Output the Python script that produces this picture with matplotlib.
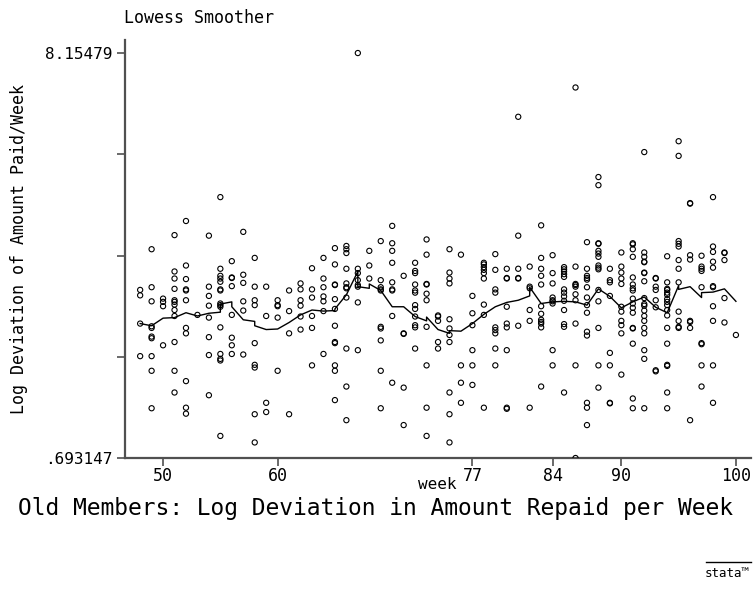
import matplotlib
matplotlib.use("Agg")
import matplotlib.pyplot as plt
from matplotlib.lines import Line2D

FONT = "DejaVu Sans Mono"

weeks = list(range(48, 101))

# log deviation of amount repaid, one list per week (48..100)
log_dev = [
    [3.79, 3.69, 3.17, 2.57],
    [4.54, 3.84, 3.58, 3.12, 3.09, 2.93, 2.90, 2.57, 2.30, 1.61],
    [3.63, 3.57, 3.49, 2.77],
    [4.80, 4.13, 4.00, 3.81, 3.60, 3.57, 3.52, 3.42, 3.31, 2.83, 2.30, 1.90],
    [5.06, 4.24, 3.99, 3.80, 3.78, 3.60, 3.09, 2.99, 2.11, 1.62, 1.51],
    [3.33],
    [4.79, 3.85, 3.68, 3.50, 3.28, 2.92, 2.59, 1.85],
    [5.50, 4.18, 4.05, 4.00, 3.94, 3.80, 3.78, 3.54, 3.51, 3.48, 3.10, 2.61, 2.52, 2.49, 1.10],
    [4.32, 4.02, 4.01, 3.86, 3.33, 2.91, 2.77, 2.61],
    [4.86, 4.07, 3.92, 3.58, 3.41, 2.60],
    [4.38, 3.85, 3.60, 3.51, 2.81, 2.41, 2.36, 1.50, 0.98],
    [3.85, 3.31, 1.71, 1.54],
    [3.60, 3.51, 3.49, 3.28, 2.30],
    [3.78, 3.40, 2.99, 1.50],
    [3.91, 3.80, 3.60, 3.50, 3.30, 3.06],
    [4.19, 3.80, 3.65, 3.31, 3.09, 2.40],
    [4.38, 4.00, 3.84, 3.67, 3.58, 3.40, 2.61],
    [4.56, 4.26, 3.89, 3.88, 3.62, 3.44, 3.13, 2.83, 2.81, 2.40, 2.30, 1.76],
    [4.60, 4.54, 4.47, 4.18, 3.91, 3.84, 3.82, 3.65, 2.71, 2.01, 1.39],
    [8.15479, 4.18, 4.10, 3.97, 3.88, 3.85, 3.56, 2.68],
    [4.51, 4.24, 4.00],
    [4.69, 3.97, 3.84, 3.80, 3.78, 3.11, 3.08, 2.86, 2.30, 1.61],
    [4.97, 4.65, 4.51, 4.29, 3.93, 3.80, 3.78, 3.31, 2.08],
    [4.05, 2.99, 2.98, 1.99, 1.30],
    [4.29, 4.14, 4.10, 3.89, 3.78, 3.74, 3.51, 3.44, 3.30, 3.14, 3.10, 2.71],
    [4.72, 4.44, 3.90, 3.89, 3.72, 3.60, 3.11, 2.40, 1.62, 1.10],
    [3.32, 3.30, 3.22, 2.83, 2.71],
    [4.54, 4.11, 4.00, 3.91, 3.25, 3.08, 2.96, 2.83, 1.90, 1.50, 0.98],
    [4.44, 2.40, 2.08, 1.71],
    [3.68, 3.36, 3.14, 2.68, 2.40, 2.04],
    [4.29, 4.26, 4.21, 4.16, 4.10, 4.00, 3.52, 3.33, 1.62],
    [4.45, 4.16, 3.80, 3.74, 3.10, 3.05, 2.99, 2.71, 2.40],
    [4.18, 4.01, 4.00, 3.48, 3.17, 3.10, 2.68, 1.62, 1.60],
    [6.98, 4.79, 4.18, 4.01, 4.00, 3.13],
    [4.22, 3.85, 3.82, 3.42, 3.22, 1.62],
    [4.98, 4.38, 4.18, 4.05, 3.89, 3.49, 3.35, 3.24, 3.20, 3.17, 3.10, 2.01],
    [4.43, 4.10, 3.91, 3.65, 3.60, 3.58, 3.54, 2.68, 2.40],
    [4.21, 4.17, 4.13, 4.08, 4.03, 3.80, 3.74, 3.67, 3.59, 3.42, 3.16, 3.11, 1.90],
    [7.52, 4.22, 3.90, 3.88, 3.85, 3.71, 3.60, 3.17, 2.40, 0.693147],
    [4.67, 4.18, 4.05, 4.01, 3.98, 3.84, 3.65, 3.51, 3.37, 3.02, 2.95, 1.71, 1.62, 1.30],
    [5.87, 5.72, 4.65, 4.64, 4.51, 4.46, 4.40, 4.24, 4.20, 4.17, 3.79, 3.58, 3.09, 2.40, 1.99],
    [4.18, 3.97, 3.93, 3.68, 2.63, 2.40, 1.71, 1.70],
    [4.48, 4.22, 4.11, 4.00, 3.90, 3.48, 3.39, 3.22, 3.14, 2.99, 2.23],
    [4.65, 4.63, 4.54, 4.40, 4.02, 3.89, 3.82, 3.78, 3.63, 3.54, 3.46, 3.37, 3.09, 3.08, 2.80, 1.79, 1.61],
    [6.33, 4.48, 4.40, 4.31, 4.30, 4.11, 4.10, 3.95, 3.64, 3.53, 3.50, 3.41, 3.31, 3.22, 3.09, 2.99, 2.68, 2.52, 1.61],
    [4.01, 4.00, 3.85, 3.79, 3.60, 3.47, 2.31, 2.29],
    [4.41, 3.93, 3.81, 3.79, 3.74, 3.70, 3.62, 3.57, 3.51, 3.42, 3.32, 3.09, 2.80, 2.41, 2.39, 1.90, 1.61],
    [6.53, 6.26, 4.69, 4.64, 4.59, 4.34, 4.18, 3.93, 3.39, 3.22, 3.11, 3.09],
    [5.39, 5.38, 4.43, 4.35, 3.22, 3.20, 3.09, 1.39],
    [4.42, 4.22, 4.18, 4.14, 3.84, 2.81, 2.79, 2.40, 2.01],
    [5.50, 4.59, 4.49, 4.31, 4.20, 3.86, 3.84, 3.49, 3.22, 2.40, 1.71],
    [4.48, 4.47, 4.34, 3.64, 3.19],
    [2.96],
]

# lowess smooth, evaluated per observation (ties give small jumps)
smooth_week = [48, 49, 50, 51, 52, 53, 54, 55, 55, 56, 56, 57, 58, 58, 59, 60,
               61, 62, 63, 64, 65, 65, 66, 67, 67, 68, 68, 69, 70, 71, 72, 73,
               73, 74, 75, 75, 76, 77, 78, 79, 80, 81, 82, 82, 83, 84, 85, 86,
               87, 88, 89, 90, 91, 92, 93, 94, 95, 95, 96, 97, 97, 98, 99, 100]
smooth_value = [3.17, 3.13, 3.27, 3.28, 3.37, 3.31, 3.36, 3.38, 3.53, 3.57, 3.48,
                3.24, 3.21, 3.13, 3.06, 3.07, 3.19, 3.33, 3.42, 3.40, 3.41, 3.44,
                3.70, 4.13, 3.85, 3.82, 3.90, 3.78, 3.48, 3.48, 3.30, 3.22, 3.29,
                3.06, 2.99, 3.04, 3.03, 3.17, 3.34, 3.48, 3.56, 3.60, 3.68, 3.84,
                3.54, 3.57, 3.58, 3.57, 3.51, 3.81, 3.67, 3.46, 3.57, 3.66, 3.47,
                3.37, 3.87, 3.80, 3.85, 3.65, 3.74, 3.75, 3.81, 3.58]

x_ticks = [50, 60, 77, 84, 90, 100]
y_min, y_max = 0.693147, 8.15479
y_ticks = [y_min + i * (y_max - y_min) / 4 for i in range(5)]
y_tick_labels = [".693147", "", "", "", "8.15479"]


def main():
    fig = plt.figure(figsize=(7.55, 5.89), dpi=100)
    ax = fig.add_axes([0.1656, 0.2224, 0.829, 0.7096])

    xs = [w for w, vals in zip(weeks, log_dev) for _ in vals]
    ys = [v for vals in log_dev for v in vals]
    ax.scatter(xs, ys, s=14, facecolors="none", edgecolors="black",
               linewidths=0.8, zorder=3)
    ax.plot(smooth_week, smooth_value, color="black", lw=1.0, zorder=4)

    ax.set_xlim(46.68, 101.31)
    ax.set_ylim(y_min, 8.394)

    for side in ["top", "right"]:
        ax.spines[side].set_visible(False)
    for side in ["left", "bottom"]:
        ax.spines[side].set_color("#505050")
        ax.spines[side].set_linewidth(1.6)

    ax.set_xticks(x_ticks)
    ax.set_xticklabels([str(t) for t in x_ticks], family=FONT, fontsize=12)
    ax.set_yticks(y_ticks)
    ax.set_yticklabels(y_tick_labels, family=FONT, fontsize=11.5)
    ax.tick_params(direction="out", length=6, width=1.2, color="#505050", pad=3)
    ax.tick_params(axis="x", pad=0.5)

    ax.set_ylabel("Log Deviation of Amount Paid/Week", family=FONT,
                  fontsize=12, labelpad=12)

    fig.text(0.579, 0.178, "week", family=FONT, fontsize=11.5,
             ha="center", va="center")
    fig.text(0.164, 0.97, "Lowess Smoother", family=FONT, fontsize=12,
             ha="left", va="center")
    fig.text(0.497, 0.137, "Old Members: Log Deviation in Amount Repaid per Week",
             family=FONT, fontsize=16.5, ha="center", va="center")

    # stata logo, bottom right
    fig.text(0.993, 0.027, "stata\u2122", family=FONT, fontsize=9,
             ha="right", va="center")
    fig.add_artist(Line2D([0.935, 0.995], [0.046, 0.046], color="black",
                          lw=1.0, transform=fig.transFigure))

    fig.savefig("out.png", dpi=100)
    plt.close(fig)


if __name__ == "__main__":
    main()
